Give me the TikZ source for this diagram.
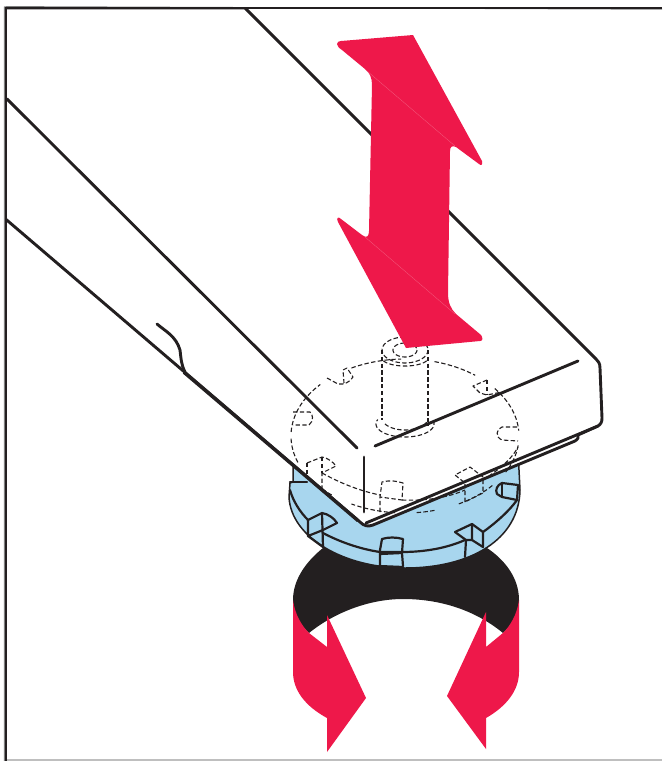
\documentclass[tikz,border=0pt]{standalone}
\definecolor{redc}{RGB}{238,24,74}
\definecolor{bluec}{RGB}{168,214,238}
\definecolor{ink}{RGB}{35,31,32}
\tikzset{
 solid line/.style={draw=ink,line width=2.9pt,line join=round,line cap=round},
 thin line/.style={draw=ink,line width=2.2pt,line join=round,line cap=round},
 hid/.style={draw=ink,line width=1.1pt,dash pattern=on 4.4pt off 2.4pt,line join=round},
 redfill/.style={fill=redc,draw=none},
}
\newcommand{\earc}[6]{\draw[hid] plot[domain=#5:#6,samples=40,smooth] ({#1+#3*cos(\x)},{#2+#4*sin(\x)});}
\begin{document}
\begin{tikzpicture}[x=1pt,y=-1pt]
\useasboundingbox (0,0) rectangle (662,761);
\fill[white] (0,0) rectangle (662,761);
% black band
\fill[ink] (293,600) .. controls (293,578) and (308,560) .. (323,548) -- (487,548)
  .. controls (505,560) and (519,578) .. (519,600)
  .. controls (519,612) and (512,625) .. (503,633)
  .. controls (475,610) and (440,599) .. (403,599)
  .. controls (370,599) and (335,612) .. (309,633)
  .. controls (300,625) and (293,612) .. (293,600) -- cycle;
% rotation arrows
\fill[redfill] (293,600) .. controls (295,615) and (302,626) .. (309,633) -- (327,647) -- (327,615) -- (366,698) -- (327,752) -- (327,718)
  .. controls (305,706) and (293,690) .. (293,672) -- cycle;
\fill[redfill] (519,600) .. controls (517,615) and (510,626) .. (503,633) -- (486,647) -- (486,612) -- (447,696) -- (486,749) -- (486,718)
  .. controls (507,706) and (519,690) .. (519,672) -- cycle;
% blue disc
\filldraw[fill=bluec,draw=ink,line width=1.5pt] (293,460) -- (293,482) -- (290,483) -- (289,497)
  .. controls (291,538) and (345,568) .. (405,568)
  .. controls (470,568) and (519,540) .. (520,490) -- (518,450) -- cycle;
% beam
\filldraw[fill=white,solid line] (-5,210) -- (360,522)
  .. controls (364,526) and (368,527) .. (373,525)
  -- (575,441) .. controls (578,439) and (579,437) .. (578,435)
  -- (598,426) .. controls (601,424) and (602,422) .. (602,418)
  -- (600,368) .. controls (600,363) and (598,361) .. (596,359)
  -- (245,8) -- (-5,8) -- cycle;
\fill[white] (0,0) rectangle (4.5,300);
\fill[white] (0,0) rectangle (662,6.5);
% frame
\draw[draw=black!25,line width=1.5pt] (7,760) -- (662,760);
\draw[draw=black!50,line width=1pt] (4.4,761) -- (4.4,7) -- (7,6.6) -- (662,9.2);
\draw[draw=ink,line width=2.6pt] (6,761) -- (6,8) -- (662,8);
\draw[draw=ink,line width=3.4pt] (184,372.3) -- (358,520.6);
\draw[solid line] (366,523) -- (598,426);
% disc rim and notches
\draw[thin line] (290,490) .. controls (293,501) and (300,512) .. (308,520);
\draw[thin line] (323,533) .. controls (340,542) and (360,549) .. (380,552) -- (402,552)
  .. controls (425,552) and (447,548) .. (465,540);
\draw[thin line] (483,532) .. controls (497,522) and (510,510) .. (517,500);
\draw[thin line] (290,482) -- (307,482);
\draw[thin line] (308,536) -- (308,520) -- (322,513) .. controls (328,514) and (334,518) .. (337,523) -- (323,530) -- (308,536);
\draw[thin line] (322,513) -- (323,547) -- (308,536);
\draw[thin line] (380,566) -- (380,550) -- (382,539) .. controls (388,537) and (396,537) .. (403,539) -- (402,553) -- (403,566);
\draw[thin line] (380,554) -- (402,553);
\draw[thin line] (379,566) -- (403,567);
\draw[thin line] (455,532) -- (472,524) -- (483,532) -- (483,547);
\draw[thin line] (472,524) -- (472,540) -- (483,547);
\draw[thin line] (455,532) -- (466,540) -- (472,540);
\draw[thin line] (466,540) -- (465,557);
\draw[thin line] (518,485) -- (502,483) .. controls (497,485) and (495,490) .. (497,494) -- (502,497) -- (517,500);
\draw[thin line] (502,483) -- (502,497);
\draw[thin line] (518,485) -- (517,500);
% hidden: disc top
\earc{405}{436}{114}{77}{-177}{-138}
\earc{405}{436}{114}{77}{-118}{-92}
\earc{405}{436}{114}{77}{-75}{-52}
\earc{405}{436}{114}{77}{-38}{-4}
\earc{405}{436}{114}{77}{7}{28}
\earc{405}{436}{114}{77}{40}{62}
\earc{405}{436}{114}{77}{75}{85}
\earc{405}{436}{114}{77}{95}{118}
\earc{405}{436}{114}{77}{130}{150}
\earc{405}{436}{114}{77}{160}{178}
% hidden: inner rim
\draw[hid] (322,473) .. controls (340,483) and (360,491) .. (380,495);
\draw[hid] (402,500) .. controls (425,501) and (447,498) .. (465,490);
\draw[hid] (483,480) .. controls (495,472) and (510,462) .. (518,447);
% hidden notches
\draw[hid] (327,378) -- (338,384) .. controls (344,385) and (350,382) .. (353,377) -- (347,368) -- (343,370) -- (344,383);
\draw[hid] (487,380) -- (473,386) -- (480,393) -- (487,395) -- (502,392);
\draw[hid] (487,380) -- (487,395);
\draw[hid] (293,412) -- (310,412) .. controls (313,414) and (314,421) .. (309,425) -- (293,425);
\draw[hid] (517,427) -- (502,427) .. controls (496,429) and (495,437) .. (502,440) -- (518,441);
\draw[hid] (307,463) -- (322,457) .. controls (328,458) and (333,462) .. (336,466) -- (322,473) -- (322,488);
\draw[hid] (307,463) -- (307,478);
\draw[hid] (322,457) -- (322,473);
\draw[hid] (380,512) -- (380,497) -- (382,482) .. controls (390,480) and (397,481) .. (403,483) -- (402,500) -- (380,497);
\draw[hid] (465,502) -- (465,483) -- (455,475) -- (470,467) -- (483,477) -- (483,493) -- (465,502);
% hidden shaft
\draw[hid] (382,350) -- (382,420);
\draw[hid] (428,350) -- (428,425);
\earc{405}{350}{23}{13}{0}{360}
\earc{405}{350}{12}{7}{0}{360}
\earc{405}{358}{23}{8}{20}{160}
\earc{405}{424}{29}{13}{-15}{200}
\earc{405}{418}{23}{12}{20}{160}
% beam lines
\draw[solid line] (7,99) -- (357,448);
\draw[solid line] (578,361) -- (375,446);
\draw[solid line] (364,457) -- (364,512);
\draw[solid line] (157,324) .. controls (165,331) and (176,336) .. (180,350) .. controls (181,358) and (181,364) .. (185,372);
% big arrow
\fill[redfill] (337,44) .. controls (337,42) and (339,41) .. (341,41) -- (413,35) -- (482,161)
  .. controls (483,165) and (481,166) .. (479,164) -- (456,147) .. controls (452,145) and (450,147) .. (450,151)
  -- (448,293) .. controls (448,303) and (451,309) .. (456,314) -- (481,335) .. controls (483,338) and (483,341) .. (480,341)
  -- (406,348) -- (338,222) .. controls (336,218) and (338,216) .. (341,219) -- (362,235) .. controls (367,239) and (369,236) .. (369,231)
  -- (372,85) .. controls (372,78) and (370,73) .. (365,69) -- (342,50) .. controls (339,48) and (337,46) .. (337,44) -- cycle;
\draw[redc!70!white,line width=.3pt] (367,71) -- (455,146);
\draw[redc!70!white,line width=.3pt] (365,237) -- (455,314);
\end{tikzpicture}
\end{document}
